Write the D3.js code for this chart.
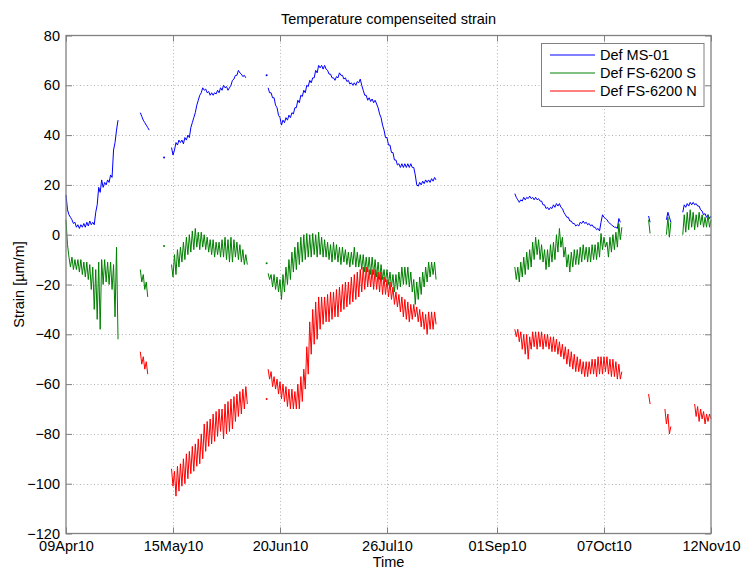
<!DOCTYPE html>
<html>
<head>
<meta charset="utf-8">
<script src="https://cdn.jsdelivr.net/npm/d3@7"></script>
<style>
  body { margin: 0; background: #fff; }
  text { font-family: "Liberation Sans", Arial, Helvetica, sans-serif; fill: #000; }
</style>
</head>
<body>
<svg id="chart" width="745" height="571"></svg>
<script>
// ---- data -------------------------------------------------------------
// Each segment: [start time, readings every 12 hours from that start]
const seriesNames = ["Def MS-01", "Def FS-6200 S", "Def FS-6200 N"];
const xTickLabels = ["09Apr10", "15May10", "20Jun10", "26Jul10", "01Sep10", "07Oct10", "12Nov10"];
const yTicks = [-120, -100, -80, -60, -40, -20, 0, 20, 40, 60, 80];

const ms01Segments = [
  ["2010-04-09 00", [16,10, 8,7, 6,4.5, 5,3, 4,2.5, 4,3, 4.5,3, 5,3.5, 5.5,4, 5,4, 9,12, 19,17, 22,19, 21,20, 22,21, 24,23, 34,37, 42,46]],
  ["2010-05-04 00", [49,47.5, 46,45, 44,43, 42]],
  ["2010-05-12 00", [31]],
  ["2010-05-14 12", [35,32, 34,37, 36,38, 37,38, 36.5,39, 38,40, 39,43, 45,47, 49,52, 54,56, 57,59, 58,58.5, 57,57.5, 56,57, 56,57, 56.5,58, 57,59, 58,60, 59,59.5, 58,59, 60,62, 62.5,64, 64,66, 65,64.5, 63.5,64, 63]],
  ["2010-06-15 12", [64]],
  ["2010-06-16 00", [59,57, 57,55, 55,52, 51,48, 47,44, 46,45, 47,46, 48,47, 49,48.5, 51,51, 54,53, 56,55.5, 58,57, 60,59.5, 62,61, 63,63, 66,65, 68,67, 68,66.5, 68,66.5, 66,64.5, 64.5,63, 63,62, 63.5,63, 65,64, 64,62.5, 63,61.5, 62,60.5, 61,60, 61,60, 61.5,61, 62.5,60, 58,56, 56,54, 55,53.5, 54.5,53, 54,52.5, 51,48.5, 47,44, 42,39, 39,36, 36,33, 33,30, 30,28, 28.5,27, 28.5,27, 28.5,27, 28.5,27, 28.5,27, 27,24, 20,19.5, 21,20, 21.5,20.5, 22,21, 22,21, 22.5,21.5, 23,22]],
  ["2010-09-07 00", [16.5,15, 14,13, 14,13.5, 15,14, 15,14.5, 15.5,14.5, 15,14, 15,14, 14.5,13.5, 13.5,12, 12,10.5, 11,10, 11,10.5, 12,11, 12.5,11.5, 12.5,11, 10.5,9, 8,7, 7,5.5, 5.5,4.5, 4.5,3.5, 4,3.5, 5,4.5, 5.5,4.5, 5,4, 4.5,3.5, 4,3, 3,2, 2.5,1.5, 5,8, 7,6.5, 6,5, 4.5,4, 3.5,3, 3,2.5, 6.5,5]],
  ["2010-10-22 00", [7.5, 5]],
  ["2010-10-28 00", [6, 9, 7, 5]],
  ["2010-11-02 12", [9,12, 11,12.5, 11.5,13, 12,13, 12,12.5, 11.5,11.5, 10,9.5, 8,8.5, 7,8, 6.5,7.5]]
];

const fs6200sSegments = [
  ["2010-04-09 00", [6,-4, -9,-13, -9,-14, -10,-14, -10,-15, -10,-16, -11,-17, -11,-18, -12,-22, -13,-30, -14,-34, -11,-38, -10,-20, -10,-19, -11,-20, -11,-22, -12,-33, -5,-42]],
  ["2010-05-04 00", [-14,-19, -16,-22, -19,-25]],
  ["2010-05-12 00", [-4.5]],
  ["2010-05-14 12", [-12,-17, -8,-16, -6,-13, -5,-11, -3,-10, -1,-8, 0,-7, 1.5,-6, 2.5,-5, 1,-6, 1,-5, 0,-6, -1,-7, -2,-8, -2,-9, -3,-8, -3,-9, -2,-9, -1,-10, -2,-11, -1,-11, -2,-9, -3,-10, -4,-11, -6,-12, -8,-12]],
  ["2010-06-15 12", [-11.5]],
  ["2010-06-16 00", [-15.5,-18, -16,-21, -16,-22, -17,-23, -18,-26, -16,-23, -13,-20, -10,-18, -7,-15, -5,-14, -3,-12, -1,-11, 0,-10, 0.5,-9, 0,-9, 0.5,-8, 0,-9, 1,-8, -1,-9, -2,-9, -3,-10, -4,-11, -3,-10, -4,-11, -5,-12, -5,-11, -6,-12, -7,-13, -7,-12, -5,-13, -7,-13, -8,-14, -8,-15, -9,-15, -9,-16, -9,-16, -10,-17, -11,-18, -12,-18, -14,-19, -14,-20, -15,-21, -16,-23, -16,-22, -15,-21, -13,-20, -13,-20, -13,-21, -15,-23, -18,-28, -19,-26, -17,-24, -15,-21, -13,-19, -11,-17, -11,-16, -11,-18]],
  ["2010-09-07 00", [-13,-18, -13,-19, -11,-17, -9,-16, -7,-14, -6,-13, -3,-10, -1,-8, -2,-10, -4,-11, -6,-14, -6,-13, -4,-11, -3,-10, 0,-7, 2.5,-5, -1,-9, -5,-13, -8,-15, -7,-13, -6,-12, -6,-12, -5,-11, -4,-10, -5,-11, -5,-11, -4,-10, -4,-10, -3,-9, 0.5,-6, -1,-5, -3,-9, -1,-7, 0,-6, 1,-5, 4.5,-2, 3]],
  ["2010-10-22 00", [6, 0.5]],
  ["2010-10-28 00", [0, 7, -1, 5]],
  ["2010-11-02 12", [0,8, 1,9, 2,10, 3,9, 2,8, 3,9, 4,8, 3,7, 3,8, 3,6]]
];

const fs6200nSegments = [
  ["2010-05-04 00", [-47,-52, -49,-54, -51,-56]],
  ["2010-05-14 12", [-94,-101, -95,-105, -93,-103, -92,-101, -90,-100, -88,-98, -87,-96, -85,-95, -84,-93, -82,-92, -80,-90, -76,-87, -75,-85, -74,-84, -72,-83, -71,-81, -70,-79, -70,-82, -68,-80, -67,-79, -66,-78, -65,-75, -64,-73, -63,-72, -62,-70, -61,-68]],
  ["2010-06-15 12", [-66]],
  ["2010-06-16 00", [-54,-58, -55,-61, -57,-62, -58,-64, -59,-66, -60,-67, -61,-69, -62,-70, -62,-70, -63,-70, -60,-70, -57,-67, -54,-62, -45,-56, -35,-48, -30,-44, -27,-42, -25,-38, -25,-36, -25,-35, -24,-35, -23,-34, -23,-33, -22,-33, -21,-31, -20,-30, -19,-29, -19,-28, -17,-27, -16,-26, -15,-25, -14,-23, -13,-22, -13,-21, -14,-21, -14,-22, -14,-22, -15,-23, -15,-24, -17,-24, -18,-25, -19,-26, -21,-28, -23,-29, -24,-31, -25,-33, -26,-34, -27,-35, -28,-34, -28,-33, -29,-35, -30,-37, -31,-38, -32,-40, -31,-38, -31,-38, -31,-36]],
  ["2010-09-07 00", [-38,-41, -38,-43, -39,-46, -40,-48, -40,-50, -41,-46, -39,-45, -39,-46, -39,-45, -39,-46, -40,-45, -40,-46, -41,-47, -41,-47, -42,-48, -43,-49, -44,-50, -45,-52, -46,-53, -47,-54, -48,-55, -49,-55, -50,-56, -51,-57, -51,-57, -51,-56, -50,-56, -50,-57, -49,-56, -49,-56, -49,-55, -49,-56, -50,-57, -50,-57, -51,-58, -52,-58, -55]],
  ["2010-10-22 00", [-64, -68]],
  ["2010-10-27 12", [-70,-76, -72,-80, -77]],
  ["2010-11-06 12", [-68,-73, -69,-75, -70,-74, -71,-76, -72,-75, -72,-74]]
];

const seriesColors = ["#0000ff", "#008000", "#ff0000"];

// ---- layout -----------------------------------------------------------
const svg = d3.select("#chart");
const plotLeft = 66, plotRight = 711, plotTop = 35.5, plotBottom = 533.5;
const fontSize = "14.5px";
const axisColor = "#808080";

const parseStart = d3.timeParse("%Y-%m-%d %H");
const parseTick = d3.timeParse("%d%b%y");
const tickDates = xTickLabels.map(parseTick);

const x = d3.scaleTime()
  .domain([tickDates[0], tickDates[tickDates.length - 1]])
  .range([plotLeft, plotRight]);
const y = d3.scaleLinear().domain([-120, 80]).range([plotBottom, plotTop]);

// dotted grid
const grid = svg.append("g").attr("stroke", "#b4b4b4").attr("stroke-width", 1)
  .attr("stroke-dasharray", "1,2.5");
grid.selectAll("line.gx").data(tickDates.slice(1, -1)).join("line")
  .attr("x1", d => Math.round(x(d)) + 0.5).attr("x2", d => Math.round(x(d)) + 0.5)
  .attr("y1", plotTop).attr("y2", plotBottom);
grid.selectAll("line.gy").data(yTicks.slice(1, -1)).join("line")
  .attr("x1", plotLeft).attr("x2", plotRight)
  .attr("y1", d => Math.round(y(d)) + 0.5).attr("y2", d => Math.round(y(d)) + 0.5);

// series
const line = d3.line().x(d => x(d.t)).y(d => y(d.v));
function toPoints(seg) {
  const t0 = parseStart(seg[0]);
  return seg[1].map((v, i) => ({ t: d3.timeHour.offset(t0, 12 * i), v }));
}
[ms01Segments, fs6200sSegments, fs6200nSegments].forEach((segs, k) => {
  const g = svg.append("g");
  segs.map(toPoints).forEach(pts => {
    if (pts.length === 1) {
      g.append("circle").attr("cx", x(pts[0].t)).attr("cy", y(pts[0].v))
        .attr("r", 1).attr("fill", seriesColors[k]);
    } else {
      g.append("path").datum(pts).attr("d", line)
        .attr("fill", "none").attr("stroke", seriesColors[k])
        .attr("stroke-width", 1).attr("stroke-linejoin", "round");
    }
  });
});

// axes (ticks pointing inward, box on all sides)
function styleAxis(g) {
  g.select(".domain").remove();
  g.selectAll(".tick line").attr("stroke", axisColor);
  g.selectAll("text").style("font-size", fontSize)
    .style("font-family", "'Liberation Sans', Arial, sans-serif").attr("fill", "#000");
}
svg.append("g").attr("transform", `translate(${plotLeft},0)`)
  .call(d3.axisLeft(y).tickValues(yTicks).tickFormat(d3.format("d"))
    .tickSizeInner(-6).tickSizeOuter(0).tickPadding(6))
  .call(styleAxis);
svg.append("g").attr("transform", `translate(${plotRight},0)`)
  .call(d3.axisRight(y).tickValues(yTicks).tickFormat("")
    .tickSizeInner(-6).tickSizeOuter(0))
  .call(styleAxis);
svg.append("g").attr("transform", `translate(0,${plotBottom})`)
  .call(d3.axisBottom(x).tickValues(tickDates).tickFormat((d, i) => xTickLabels[i])
    .tickSizeInner(-6).tickSizeOuter(0).tickPadding(7))
  .call(styleAxis);
svg.append("g").attr("transform", `translate(0,${plotTop})`)
  .call(d3.axisTop(x).tickValues(tickDates).tickFormat("")
    .tickSizeInner(-6).tickSizeOuter(0))
  .call(styleAxis);

svg.append("rect").attr("x", plotLeft).attr("y", plotTop)
  .attr("width", plotRight - plotLeft).attr("height", plotBottom - plotTop)
  .attr("fill", "none").attr("stroke", axisColor).attr("stroke-width", 1.3);

// titles
svg.append("text").attr("x", (plotLeft + plotRight) / 2).attr("y", 24)
  .attr("text-anchor", "middle").style("font-size", fontSize)
  .text("Temperature compenseited strain");
svg.append("text").attr("x", (plotLeft + plotRight) / 2).attr("y", 567)
  .attr("text-anchor", "middle").style("font-size", fontSize).text("Time");
svg.append("text").attr("transform", `translate(24,${(plotTop + plotBottom) / 2}) rotate(-90)`)
  .attr("text-anchor", "middle").style("font-size", fontSize).text("Strain [µm/m]");

// legend
const legend = svg.append("g").attr("transform", "translate(541.5,43.5)");
legend.append("rect").attr("width", 162.5).attr("height", 63)
  .attr("fill", "#fff").attr("stroke", axisColor).attr("stroke-width", 1);
seriesNames.forEach((name, i) => {
  const cy = 11.5 + i * 18;
  legend.append("line").attr("x1", 8.5).attr("x2", 53.5).attr("y1", cy).attr("y2", cy)
    .attr("stroke", seriesColors[i]).attr("stroke-width", 1);
  legend.append("text").attr("x", 58.5).attr("y", cy + 5)
    .style("font-size", fontSize).text(name);
});
</script>
</body>
</html>
